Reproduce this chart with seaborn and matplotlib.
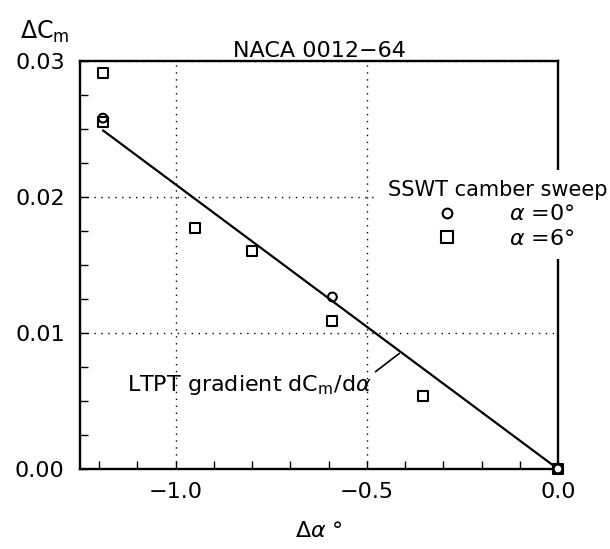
import numpy as np
import pandas as pd
import matplotlib
matplotlib.use("Agg")
import matplotlib.pyplot as plt
from matplotlib.ticker import MultipleLocator, FuncFormatter
from matplotlib.lines import Line2D
import seaborn as sns

# Data
alpha0_dalpha = [-1.19, -0.59, 0.0]
alpha0_dcm = [0.0258, 0.01265, 0.0]
alpha6_dalpha = [-1.19, -1.19, -0.95, -0.80, -0.59, -0.353, 0.0]
alpha6_dcm = [0.0291, 0.0255, 0.0177, 0.0160, 0.0109, 0.0054, 0.0]
ltpt_dalpha = [-1.19, 0.0]
ltpt_dcm = [0.0249, 0.0]

title_text = "NACA 0012\u221264"
legend_title = "SSWT camber sweep"
legend_labels = [r"$\alpha$ =0°", r"$\alpha$ =6°"]
annot_text = r"LTPT gradient dC$_\mathrm{m}$/d$\alpha$"

df0 = pd.DataFrame({"da": alpha0_dalpha, "dcm": alpha0_dcm})
df6 = pd.DataFrame({"da": alpha6_dalpha, "dcm": alpha6_dcm})
dfl = pd.DataFrame({"da": ltpt_dalpha, "dcm": ltpt_dcm})

sns.set_style("ticks")
plt.rcParams["font.family"] = ["DejaVu Sans"]
plt.rcParams["mathtext.fontset"] = "dejavusans"
for k in ["text.color", "axes.labelcolor", "xtick.color", "ytick.color",
          "xtick.labelcolor", "ytick.labelcolor", "axes.edgecolor"]:
    plt.rcParams[k] = "black"

fig = plt.figure(figsize=(6.10, 5.49), dpi=100)
ax = fig.add_axes([80/610, 80/549, 478/610, 408/549])

sns.lineplot(data=dfl, x="da", y="dcm", ax=ax, color="black", lw=1.6, zorder=3)
sns.scatterplot(data=df6, x="da", y="dcm", ax=ax, marker="s", s=50,
                facecolor="white", edgecolor="black", linewidth=1.5, zorder=4,
                clip_on=False)
sns.scatterplot(data=df0, x="da", y="dcm", ax=ax, marker="o", s=40,
                facecolor="none", edgecolor="black", linewidth=1.5, zorder=5,
                clip_on=False)

ax.set_xlim(-1.25, 0.0)
ax.set_ylim(0.0, 0.03)
ax.xaxis.set_major_locator(MultipleLocator(0.5))
ax.xaxis.set_minor_locator(MultipleLocator(0.1))
ax.yaxis.set_major_locator(MultipleLocator(0.01))
ax.yaxis.set_minor_locator(MultipleLocator(0.0025))
ax.xaxis.set_major_formatter(FuncFormatter(lambda v, p: f"{v:.1f}".replace("-", "\u2212")))
ax.yaxis.set_major_formatter(FuncFormatter(lambda v, p: f"{v:.2f}"))
ax.tick_params(which="both", direction="in", length=6, width=1.0, labelsize=16,
               top=False, right=False, color="black", labelcolor="black")
ax.tick_params(axis="x", pad=9)
ax.tick_params(axis="y", pad=11)
ax.grid(True, which="major", ls=(0, (1, 4)), color="black", lw=1.0)
for sp in ax.spines.values():
    sp.set_visible(True)
    sp.set_linewidth(1.7)
    sp.set_color("black")

ax.set_title(title_text, fontsize=16, pad=2, color="black")
ax.set_xlabel(r"$\Delta\alpha$ °", fontsize=16, labelpad=14, color="black")
ax.set_ylabel(r"$\Delta\mathrm{C}_\mathrm{m}$", fontsize=17, rotation=0,
              ha="center", va="center", color="black")
ax.yaxis.set_label_coords(-0.073, 1.071)

ax.annotate(annot_text, xy=(-0.415, 0.0085), xytext=(-1.128, 0.0062),
            fontsize=16, ha="left", va="center", color="black",
            arrowprops=dict(arrowstyle="-", color="black", lw=1.2,
                            relpos=(1.0, 0.9), shrinkA=1, shrinkB=0))

handles = [Line2D([], [], ls="none", marker="o", ms=7, mfc="none", mec="black", mew=1.5),
           Line2D([], [], ls="none", marker="s", ms=8, mfc="none", mec="black", mew=1.5)]
leg = ax.legend(handles, legend_labels, title=legend_title, loc="upper left",
                bbox_to_anchor=(378/610, 1 - 170/549), bbox_transform=fig.transFigure,
                frameon=True, framealpha=1, facecolor="white", edgecolor="none",
                fontsize=16, title_fontsize=15, handletextpad=0.15, labelspacing=0.2,
                borderpad=0.45, handlelength=5.3, borderaxespad=0, alignment="left")
leg.get_frame().set_linewidth(0)
leg.set_zorder(10)
leg.get_title().set_color("black")
for t in leg.get_texts():
    t.set_color("black")

ax.set_axisbelow(True)
fig.savefig("out.png", dpi=100)
